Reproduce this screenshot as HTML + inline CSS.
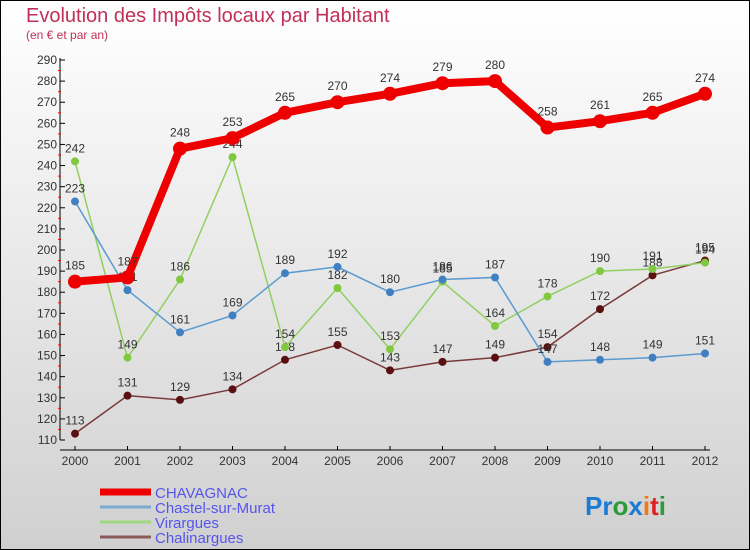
<!DOCTYPE html>
<html><head><meta charset="utf-8"><style>
body{margin:0;width:750px;height:550px;overflow:hidden;font-family:"Liberation Sans",sans-serif}
svg{display:block}
</style></head><body>
<svg id="c" width="750" height="550" xmlns="http://www.w3.org/2000/svg">
<defs><linearGradient id="bg" x1="0" y1="0" x2="0" y2="1"><stop offset="0" stop-color="#ffffff"/><stop offset="1" stop-color="#d0d0d0"/></linearGradient></defs>
<rect x="0.5" y="0.5" width="749" height="549" fill="url(#bg)" stroke="#000"/>
<text x="26" y="22" font-size="20" fill="#c0305a">Evolution des Impôts locaux par Habitant</text>
<text x="26" y="39" font-size="12" fill="#c0305a">(en € et par an)</text>
<g id="axes"></g><g id="series"></g><g id="legend"></g>
<text x="585" y="515" font-size="26" font-weight="bold"><tspan fill="#1a7ad4">Pr</tspan><tspan fill="#2a9a3a">o</tspan><tspan fill="#1a7ad4">x</tspan><tspan fill="#f07a10">i</tspan><tspan fill="#e02020">t</tspan><tspan fill="#2a9a3a">i</tspan></text>
</svg>
<script>
const years=[2000,2001,2002,2003,2004,2005,2006,2007,2008,2009,2010,2011,2012];
const yTicks=[110,120,130,140,150,160,170,180,190,200,210,220,230,240,250,260,270,280,290];
const seriesNames=["CHAVAGNAC","Chastel-sur-Murat","Virargues","Chalinargues"];
const chavagnac=[185,187,248,253,265,270,274,279,280,258,261,265,274];
const chastel=[223,181,161,169,189,192,180,186,187,147,148,149,151];
const virargues=[242,149,186,244,154,182,153,185,164,178,190,191,194];
const chalinargues=[113,131,129,134,148,155,143,147,149,154,172,188,195];
const NS="http://www.w3.org/2000/svg";
const X=i=>75+i*52.5;
const Y=v=>440-(v-110)*380/180;
function mk(t,a,p){const e=document.createElementNS(NS,t);for(const k in a)e.setAttribute(k,a[k]);p.appendChild(e);return e;}
const ax=document.getElementById('axes');
let l=mk('line',{x1:60,y1:58,x2:60,y2:440,stroke:'#000'},ax);


l=mk('line',{x1:60,y1:450,x2:710,y2:450,stroke:'#000'},ax);


yTicks.forEach(v=>{
 mk('line',{x1:60,y1:Y(v),x2:65,y2:Y(v),stroke:'#000'},ax);
 if(v<290)mk('line',{x1:58,y1:Y(v+5),x2:61,y2:Y(v+5),stroke:'#f00'},ax);
 const t=mk('text',{x:57,y:Y(v)+4,'font-size':12,fill:'#333','text-anchor':'end'},ax);t.textContent=v;
 
 
});
years.forEach((y,i)=>{
 mk('line',{x1:X(i),y1:446,x2:X(i),y2:450,stroke:'#000'},ax);
 const t=mk('text',{x:X(i),y:465,'font-size':12,fill:'#333','text-anchor':'middle'},ax);t.textContent=y;
 
 
});
const sg=document.getElementById('series');
const cfg=[[chalinargues,'#7a3a3a','#5a1010',1.5,4,'chalinargues'],[virargues,'#90d060','#80c840',1.5,4,'virargues'],[chastel,'#5a9ad0','#4080c0',1.5,4,'chastel-sur-murat'],[chavagnac,'#ee0000','#ee0000',8,7,'chavagnac']];
cfg.forEach(([d,c,f,w,r,n])=>{
 const g=mk('g',{},sg);
 
 
 const p=mk('polyline',{points:d.map((v,i)=>X(i)+','+Y(v)).join(' '),fill:'none',stroke:c,'stroke-width':w},g);
 
 
 d.forEach((v,i)=>{
  const cc=mk('circle',{cx:X(i),cy:Y(v),r:r,fill:f},g);
  
  
  const t=mk('text',{x:X(i),y:Y(v)-(r+5),'font-size':12,fill:'#333','text-anchor':'middle'},g);t.textContent=v;
  
  
 });
});
const lg=document.getElementById('legend');
const lc=['#ee0000','#7aaad0','#a0d880','#8a5a5a'],lw=[7,3,3,3];
seriesNames.forEach((n,i)=>{
 const y=492+i*15;
 const g=mk('g',{},lg);
 
 
 mk('line',{x1:100,y1:y,x2:151,y2:y,stroke:lc[i],'stroke-width':lw[i]},g);
 const t=mk('text',{x:155,y:y+6,'font-size':15,fill:'#5555ee'},g);t.textContent=n;
});
</script>
</body></html>
